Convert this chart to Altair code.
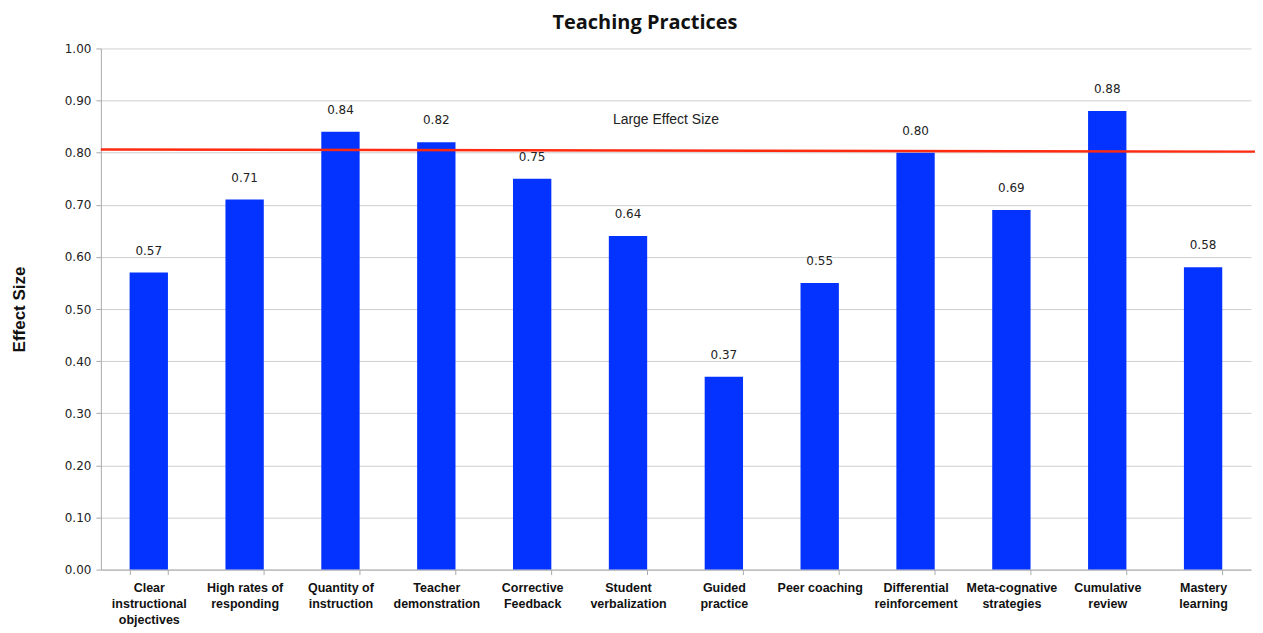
import altair as alt
import pandas as pd

categories = [
    "Clear\ninstructional\nobjectives",
    "High rates of\nresponding",
    "Quantity of\ninstruction",
    "Teacher\ndemonstration",
    "Corrective\nFeedback",
    "Student\nverbalization",
    "Guided\npractice",
    "Peer coaching",
    "Differential\nreinforcement",
    "Meta-cognative\nstrategies",
    "Cumulative\nreview",
    "Mastery\nlearning",
]
effect_sizes = [0.57, 0.71, 0.84, 0.82, 0.75, 0.64, 0.37, 0.55, 0.80, 0.69, 0.88, 0.58]

threshold_start = [0.806]
threshold_end = [0.802]
threshold_label = ["Large Effect Size"]

W, H = 1152, 522

df = pd.DataFrame({"cat": categories, "val": effect_sizes})
df["lab"] = [f"{v:.2f}" for v in effect_sizes]
line_df = pd.DataFrame({"y1": threshold_start, "y2": threshold_end, "t": threshold_label})

x = alt.X("cat:N", sort=categories, title=None,
          scale=alt.Scale(paddingInner=0.6, paddingOuter=0.3),
          axis=alt.Axis(labelExpr="split(datum.label, '\\n')", labelAngle=0,
                        labelFont="Liberation Sans", labelFontWeight="bold",
                        labelFontSize=12.5, labelColor="#111", labelLineHeight=16,
                        labelPadding=7, tickBand="extent", tickColor="#aaa",
                        tickSize=5, domainColor="#aaa", labelBaseline="top"))
y = alt.Y("val:Q", title="Effect Size",
          scale=alt.Scale(domain=[0, 1], nice=False),
          axis=alt.Axis(values=[i / 10 for i in range(11)], format=".2f",
                        labelFont="DejaVu Sans", labelFontSize=12, labelColor="#222",
                        tickColor="#aaa", tickSize=5, domainColor="#aaa",
                        gridColor="#cfcfcf", labelPadding=5,
                        titleFont="Liberation Sans", titleFontSize=17,
                        titleFontWeight="bold", titleColor="#111", titlePadding=36))

bars = alt.Chart(df).mark_bar(color="#0433FF").encode(x=x, y=y)
labels = alt.Chart(df).mark_text(baseline="bottom", dy=-15, font="DejaVu Sans",
                                 fontSize=12, color="#222").encode(
    x=alt.X("cat:N", sort=categories), y="val:Q", text="lab:N")

rule = alt.Chart(line_df).mark_rule(color="#FF2A10", strokeWidth=2.5).encode(
    x=alt.value(0), x2=alt.value(W + 4), y="y1:Q", y2="y2:Q")
rule_text = alt.Chart(line_df).mark_text(font="Liberation Sans", fontSize=14,
                                         color="#222", align="center").encode(
    x=alt.value(566), y=alt.value(72), text="t:N")

chart = alt.layer(bars, labels, rule, rule_text).properties(
    width=W, height=H,
    title=alt.TitleParams("Teaching Practices", font="Open Sans", fontSize=20,
                          fontWeight="bold", color="#111", offset=9, dx=-31),
    autosize=alt.AutoSizeParams(type="none"),
    padding={"left": 93, "top": 40, "right": 4, "bottom": 59},
).configure_view(stroke=None).configure_axisY(domain=True)

chart.save("out.html", embed_options={"renderer": "svg", "actions": False})
